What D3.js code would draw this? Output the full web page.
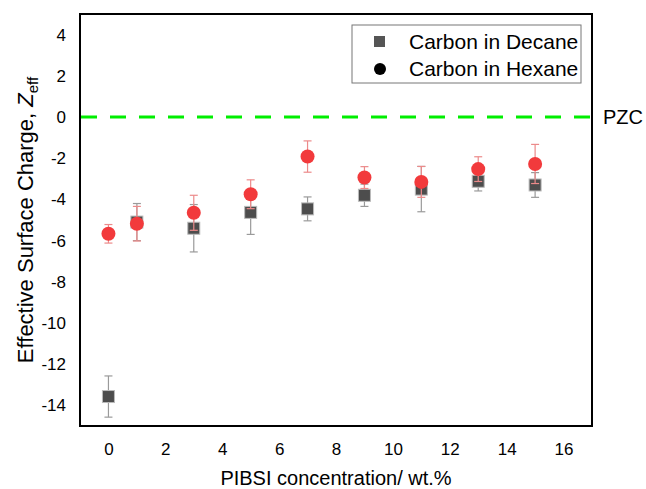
<!DOCTYPE html>
<html>
<head>
<meta charset="utf-8">
<script src="https://cdn.jsdelivr.net/npm/d3@7"></script>
<style>
  body { margin: 0; background: #fff; }
  text { font-family: Arial, "Liberation Sans", sans-serif; }
</style>
</head>
<body>
<script>
// concentrations (wt.%)
var concentrations = [0, 1, 3, 5, 7, 9, 11, 13, 15];

// Carbon in Decane
var decaneValues = [-13.57, -5.1, -5.4, -4.63, -4.46, -3.8, -3.5, -3.12, -3.3];
var decaneErrors = [1.0, 0.9, 1.15, 1.07, 0.58, 0.54, 1.1, 0.47, 0.6];

// Carbon in Hexane
var hexaneValues = [-5.67, -5.18, -4.65, -3.75, -1.92, -2.94, -3.15, -2.53, -2.28];
var hexaneErrors = [0.45, 0.84, 0.85, 0.7, 0.76, 0.53, 0.75, 0.6, 0.95];

var xTicks = [0, 2, 4, 6, 8, 10, 12, 14, 16];
var yTicks = [4, 2, 0, -2, -4, -6, -8, -10, -12, -14];

var W = 646, H = 489;
var margin = { left: 80, top: 14, right: 54, bottom: 63 };
var FONT = 'Arial, "Liberation Sans", sans-serif';

var svg = d3.select('body').append('svg')
	.attr('width', W)
	.attr('height', H);

var x = d3.scaleLinear().domain([-1, 17]).range([margin.left, W - margin.right]);
var y = d3.scaleLinear().domain([-15, 5]).range([H - margin.bottom, margin.top]);

// plain hyphen for negatives, like the original
var fmt = function(d) { return String(d); };

// ---- axes (labels only, no tick marks) ----
var xAxis = svg.append('g')
	.attr('transform', 'translate(0,' + (H - margin.bottom) + ')')
	.call(d3.axisBottom(x).tickValues(xTicks).tickFormat(fmt).tickSize(0).tickPadding(17));
xAxis.select('.domain').remove();
xAxis.selectAll('text').attr('font-size', 17).attr('font-family', FONT).attr('fill', '#000');

var yAxis = svg.append('g')
	.attr('transform', 'translate(' + margin.left + ',0)')
	.call(d3.axisLeft(y).tickValues(yTicks).tickFormat(fmt).tickSize(0).tickPadding(14));
yAxis.select('.domain').remove();
yAxis.selectAll('text').attr('font-size', 17).attr('font-family', FONT).attr('fill', '#000');

// ---- PZC line ----
svg.append('line')
	.attr('x1', x(-1)).attr('x2', x(17))
	.attr('y1', y(0)).attr('y2', y(0))
	.attr('stroke', '#00ee00')
	.attr('stroke-width', 3)
	.attr('stroke-dasharray', '16,13')
	.attr('stroke-dashoffset', -1);

svg.append('text')
	.attr('x', W - margin.right + 11)
	.attr('y', y(0))
	.attr('dy', '0.36em')
	.attr('font-size', 20)
	.text('PZC');

// ---- error bars ----
function errorBars(vals, errs, color, cls) {
	var g = svg.append('g').attr('class', cls);
	concentrations.forEach(function(c, i) {
		var cx = x(c);
		var top = y(vals[i] + errs[i]), bot = y(vals[i] - errs[i]);
		g.append('line').attr('x1', cx).attr('x2', cx).attr('y1', top).attr('y2', bot)
			.attr('stroke', color).attr('stroke-width', 1.2);
		[top, bot].forEach(function(yy) {
			g.append('line').attr('x1', cx - 4).attr('x2', cx + 4).attr('y1', yy).attr('y2', yy)
				.attr('stroke', color).attr('stroke-width', 1.2);
		});
	});
}

errorBars(decaneValues, decaneErrors, '#9a9a9a', 'err-decane');

// squares
svg.selectAll('.sq')
	.data(decaneValues)
	.enter()
	.append('rect')
	.attr('class', 'sq')
	.attr('x', function(d, i) { return x(concentrations[i]) - 6; })
	.attr('y', function(d) { return y(d) - 6; })
	.attr('width', 12)
	.attr('height', 12)
	.attr('fill', '#4d4d4d')
	.attr('stroke', '#bbbbbb')
	.attr('stroke-width', 1);

errorBars(hexaneValues, hexaneErrors, '#ec8a8a', 'err-hexane');

// circles
svg.selectAll('.dot')
	.data(hexaneValues)
	.enter()
	.append('circle')
	.attr('class', 'dot')
	.attr('cx', function(d, i) { return x(concentrations[i]); })
	.attr('cy', function(d) { return y(d); })
	.attr('r', 7)
	.attr('fill', '#f23a3c');

// ---- frame ----
svg.append('rect')
	.attr('x', margin.left).attr('y', margin.top)
	.attr('width', W - margin.left - margin.right)
	.attr('height', H - margin.top - margin.bottom)
	.attr('fill', 'none')
	.attr('stroke', '#000')
	.attr('stroke-width', 2);

// ---- legend ----
var legend = svg.append('g');
legend.append('rect')
	.attr('x', 352).attr('y', 25).attr('width', 229).attr('height', 58)
	.attr('fill', '#fff').attr('stroke', '#777').attr('stroke-width', 1);
legend.append('rect')
	.attr('x', 374).attr('y', 36).attr('width', 11).attr('height', 11)
	.attr('fill', '#555');
legend.append('circle')
	.attr('cx', 380).attr('cy', 69).attr('r', 6)
	.attr('fill', '#000');
legend.append('text').attr('x', 409).attr('y', 49).attr('font-size', 21).text('Carbon in Decane');
legend.append('text').attr('x', 409).attr('y', 76).attr('font-size', 21).text('Carbon in Hexane');

// ---- axis titles ----
svg.append('text')
	.attr('x', (margin.left + W - margin.right) / 2)
	.attr('y', 485)
	.attr('text-anchor', 'middle')
	.attr('font-size', 20)
	.text('PIBSI concentration/ wt.%');

var yt = svg.append('text')
	.attr('transform', 'translate(33,' + (margin.top + (H - margin.top - margin.bottom) / 2) + ') rotate(-90)')
	.attr('text-anchor', 'middle')
	.attr('font-size', 22);
yt.append('tspan').text('Effective Surface Charge, ');
yt.append('tspan').attr('font-style', 'italic').text('Z');
yt.append('tspan').attr('font-size', 15).attr('dy', 5).text('eff');
</script>
</body>
</html>
